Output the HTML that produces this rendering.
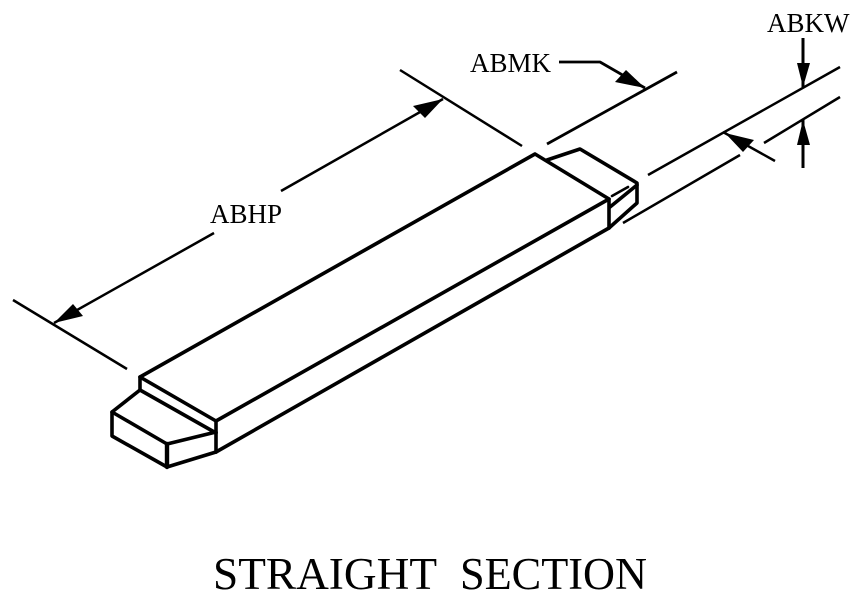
<!DOCTYPE html>
<html>
<head>
<meta charset="utf-8">
<style>
html,body{margin:0;padding:0;background:#fff;width:858px;height:606px;overflow:hidden}
svg{display:block}
text{font-family:"Liberation Serif",serif;fill:#000}
</style>
</head>
<body>
<svg width="858" height="606" viewBox="0 0 858 606" xmlns="http://www.w3.org/2000/svg">
<g fill="none" stroke="#000" stroke-linecap="round" stroke-linejoin="round">
  <!-- body -->
  <g stroke-width="3.6">
    <path d="M140 377L535 154L609 199L216 421L140 377"/>
    <path d="M216 452L609 228"/>
    <path d="M609 199V228"/>
    <path d="M216 421V452"/>
    <path d="M140 377V390"/>
    <path d="M140 390L216 433"/>
    <path d="M140 390L112 412V436L167 467L216 452"/>
    <path d="M112 412L167 444L216 432"/>
    <path d="M167 444V467" stroke-width="4.4"/>
    <path d="M547 160L580 149L637 183V203L609 228"/>
    <path d="M610 207L637 185"/>
    <path d="M612 196L628 187" stroke-width="2.6"/>
  </g>
  <!-- dimension lines -->
  <g stroke-width="2.5" stroke-linecap="butt">
    <path d="M13 300L127 369"/>
    <path d="M400 70L522 146"/>
    <path d="M54 323L214 233"/>
    <path d="M281 191L443 99"/>
    <path d="M547 144L677 72" stroke-width="2.8"/>
    <path d="M559 62H600L645 88" stroke-width="2.8"/>
    <path d="M648 175L840 67"/>
    <path d="M623 223L740 155"/>
    <path d="M764 143L840 97"/>
    <path d="M723 132L775 161"/>
    <path d="M803 38V87" stroke-width="3"/>
    <path d="M803 120V168" stroke-width="3"/>
  </g>
</g>
<g fill="#000">
  <polygon points="54,323 73,304 83,316"/>
  <polygon points="443,99 413,106 425,118"/>
  <polygon points="645,88 615,82 626,70"/>
  <polygon points="725,133 743,152 754,140"/>
  <polygon points="803,87 797,63 810,63"/>
  <polygon points="803,120 797,145 810,145"/>
</g>
<text x="210" y="223" font-size="27">ABHP</text>
<text x="470" y="72" font-size="27">ABMK</text>
<text x="767" y="32" font-size="27">ABKW</text>
<text x="213" y="589" font-size="45" textLength="224" lengthAdjust="spacingAndGlyphs">STRAIGHT</text>
<text x="460" y="589" font-size="45" textLength="187" lengthAdjust="spacingAndGlyphs">SECTION</text>
</svg>
</body>
</html>
